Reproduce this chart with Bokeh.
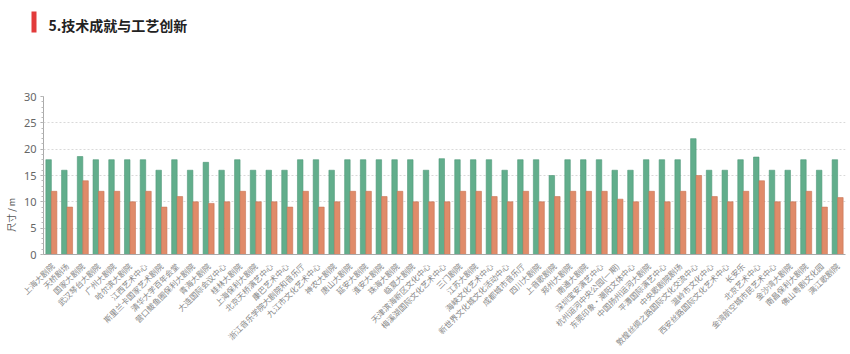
import math
from bokeh.plotting import figure
from bokeh.layouts import column, row
from bokeh.models import Range1d, FactorRange, ColumnDataSource, FixedTicker
from bokeh.core.properties import value
from bokeh.transform import dodge
from bokeh.embed import file_html
from bokeh.resources import INLINE

title_text = "5.技术成就与工艺创新"
y_label = "尺寸 / m"
venues = [
    "上海大剧院", "天桥剧场", "国家大剧院", "武汉琴台大剧院", "广州大剧院", "哈尔滨大剧院",
    "江西艺术中心", "斯里兰卡国家艺术剧院", "清华大学百年会堂", "营口鲅鱼圈保利大剧院",
    "青海大剧院", "大连国际会议中心", "桂林大剧院", "上海保利大剧院", "北京天桥演艺中心",
    "康巴艺术中心", "浙江音乐学院大剧院和音乐厅", "九江市文化艺术中心", "神农大剧院",
    "唐山大剧院", "延安大剧院", "淮安大剧院", "珠海大剧院", "临夏大剧院",
    "天津滨海新区文化中心", "梅溪湖国际文化艺术中心", "三门剧院", "江苏大剧院",
    "海峡文化艺术中心", "新世界文化城文化活动中心", "成都城市音乐厅", "四川大剧院",
    "上音歌剧院", "郑州大剧院", "南通大剧院", "深圳宝安演艺中心", "杭州运河中央公园(一期)",
    "东莞印象·潮阳文体中心", "中国扬州运河大剧院", "平潭国际演艺中心", "中央歌剧院剧场",
    "敦煌丝绸之路国际文化交流中心", "温岭市文化中心", "西安丝路国际文化艺术中心", "长安乐",
    "北京艺术中心", "金湾航空城市民艺术中心", "金沙湾大剧院", "南昌保利大剧院",
    "佛山粤剧文化园", "漓江歌剧院",
]
series_a = [
    18, 16, 18.6, 18, 18, 18, 18, 16, 18, 16,
    17.5, 16, 18, 16, 16, 16, 18, 18, 16, 18,
    18, 18, 18, 18, 16, 18.2, 18, 18, 18, 16,
    18, 18, 15, 18, 18, 18, 16, 16, 18, 18,
    18, 22, 16, 16, 18, 18.5, 16, 16, 18, 16, 18,
]
series_b = [
    12, 9, 14, 12, 12, 10, 12, 9, 11, 10,
    9.7, 10, 12, 10, 10, 9, 12, 9, 10, 12,
    12, 11, 12, 10, 10, 10, 12, 12, 11, 10,
    12, 10, 11, 12, 12, 12, 10.5, 10, 12, 10,
    12, 15, 11, 10, 12, 14, 10, 10, 12, 9, 10.8,
]
y_ticks = [0, 5, 10, 15, 20, 25, 30]


def bare(w, h):
    f = figure(width=w, height=h, x_range=Range1d(0, w), y_range=Range1d(h, 0),
               output_backend="svg", toolbar_location=None,
               min_border=0, min_border_left=0, min_border_right=0,
               min_border_top=0, min_border_bottom=0)
    f.axis.visible = False
    f.grid.visible = False
    f.outline_line_color = None
    f.background_fill_color = "white"
    f.border_fill_color = "white"
    return f


# header
HEADER_H = 44
header = bare(850, HEADER_H)
header.quad(left=[31], right=[36], top=[11], bottom=[32], fill_color="#e23b3b", line_color=None)
header.text(x=[48], y=[24], text=[title_text], text_font=value("Noto Sans CJK SC"),
            text_font_size="14px", text_font_style="bold", text_color="#222222",
            text_baseline="middle")

# y label strip
MAIN_H = 354 - HEADER_H
LAB_W = 20
lab = bare(LAB_W, MAIN_H)
lab.text(x=[11], y=[232], text=[y_label], angle=math.pi / 2,
         text_font=value("Noto Sans CJK SC"), text_font_size="9px", text_color="#555555",
         text_align="center", text_baseline="middle")

# main chart
src = ColumnDataSource(dict(venue=venues, a=series_a, b=series_b))
p = figure(width=850 - LAB_W, height=MAIN_H, x_range=FactorRange(*venues, range_padding=0),
           y_range=Range1d(0, 30), output_backend="svg", toolbar_location=None,
           min_border_left=42 - LAB_W, min_border_right=5,
           min_border_top=96 - HEADER_H, min_border_bottom=96)
p.outline_line_color = None
p.background_fill_color = "white"
p.border_fill_color = "white"

p.vbar(x=dodge("venue", -0.175, range=p.x_range), top="a", width=0.35, source=src,
       fill_color="#62ae8c", line_color="#4f9878", line_width=0.6)
p.vbar(x=dodge("venue", 0.175, range=p.x_range), top="b", width=0.35, source=src,
       fill_color="#e08b69", line_color="#c87455", line_width=0.6)

p.xgrid.grid_line_color = None
p.ygrid.grid_line_color = "#cfcfcf"
p.ygrid.grid_line_dash = "2 2"
p.ygrid.grid_line_width = 0.8

p.yaxis.ticker = FixedTicker(ticks=y_ticks, minor_ticks=list(range(31)))
p.yaxis.major_label_text_font_size = "11px"
p.yaxis.major_label_text_color = "#666666"
p.yaxis.major_label_text_font = "Noto Sans"
p.yaxis.axis_line_color = "#aaaaaa"
p.yaxis.major_tick_line_color = "#aaaaaa"
p.yaxis.minor_tick_line_color = "#bbbbbb"
p.yaxis.major_tick_out = 3
p.yaxis.major_tick_in = 0
p.yaxis.minor_tick_out = 2
p.yaxis.minor_tick_in = 0
p.yaxis.major_label_standoff = 4

p.xaxis.major_label_orientation = math.pi / 4
p.xaxis.major_label_text_font_size = "8px"
p.xaxis.major_label_text_color = "#888888"
p.xaxis.major_label_text_font = "Noto Sans CJK SC"
p.xaxis.axis_line_color = "#aaaaaa"
p.xaxis.major_tick_line_color = None
p.xaxis.major_label_standoff = 4

layout = column(header, row(lab, p, spacing=0), spacing=0)
open("out.html", "w").write(file_html(layout, INLINE))
